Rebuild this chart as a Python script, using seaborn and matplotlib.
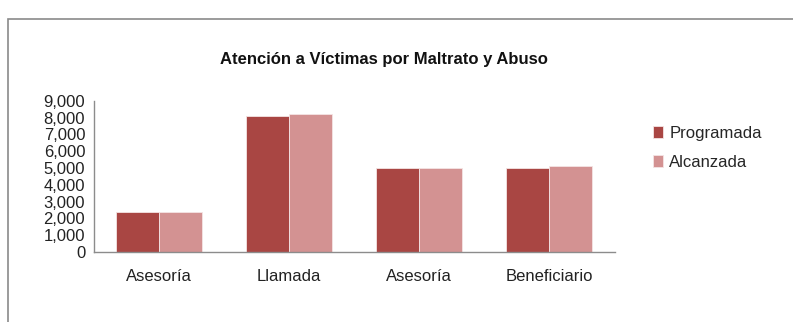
import matplotlib
matplotlib.use("Agg")
import matplotlib.pyplot as plt
from matplotlib.patches import Rectangle
from matplotlib.ticker import FuncFormatter, MultipleLocator
import seaborn as sns
import pandas as pd

categories = ["Asesoría", "Llamada", "Asesoría ", "Beneficiario"]
tick_labels = ["Asesoría", "Llamada", "Asesoría", "Beneficiario"]
programada = [2400, 8100, 5000, 5000]
alcanzada = [2400, 8200, 5000, 5100]
series = ["Programada", "Alcanzada"]
colors = ["#A94643", "#D39292"]
title = "Atención a Víctimas por Maltrato y Abuso"

df = pd.DataFrame({
    "categoria": categories * 2,
    "serie": [series[0]] * 4 + [series[1]] * 4,
    "valor": programada + alcanzada,
})

sns.set_style("white")
plt.rcParams["font.family"] = ["Liberation Sans", "DejaVu Sans"]

fig = plt.figure(figsize=(7.93, 3.22), dpi=100)
ax = fig.add_axes([0.118, 0.2174, 0.657, 0.4699])

sns.barplot(data=df, x="categoria", y="valor", hue="serie", order=categories,
            hue_order=series, palette=colors, saturation=1, width=0.66, gap=0,
            edgecolor="#F4E4E4", linewidth=0.6, ax=ax, legend=True)

ax.set_xlim(-0.5, 3.5)
ax.set_ylim(0, 9000)
ax.yaxis.set_major_locator(MultipleLocator(1000))
ax.yaxis.set_major_formatter(FuncFormatter(lambda v, p: f"{int(v):,}"))
ax.set_xlabel("")
ax.set_ylabel("")

axis_color = "#8C8C8C"
for side in ["top", "right"]:
    ax.spines[side].set_visible(False)
for side in ["left", "bottom"]:
    ax.spines[side].set_color(axis_color)
    ax.spines[side].set_linewidth(1.0)

ax.set_xticks(range(4))
ax.set_xticklabels(tick_labels)
ax.set_xticks([-0.5, 0.5, 1.5, 2.5, 3.5], minor=True)
ax.tick_params(axis="x", which="major", length=0, pad=12, labelsize=12, labelcolor="#222222")
ax.tick_params(axis="x", which="minor", length=5, width=1, color=axis_color, direction="out")
ax.tick_params(axis="y", which="major", length=4, width=1, color=axis_color, direction="out",
               pad=2, labelsize=12, labelcolor="#222222")

leg = ax.legend(loc="upper left", bbox_to_anchor=(1.06, 0.88), frameon=False,
                fontsize=12, handlelength=0.6, handleheight=0.7, handletextpad=0.4,
                labelspacing=0.85, borderaxespad=0)

fig.text(0.484, 0.815, title, ha="center", va="center", fontsize=12,
         fontweight="bold", color="#111111")

# outer chart frame
fig.patches.append(Rectangle((0.0101, -0.1), 1.2, 1.041, transform=fig.transFigure,
                             fill=False, edgecolor="#8A8A8A", linewidth=1.2))

fig.savefig("out.png", dpi=100)
